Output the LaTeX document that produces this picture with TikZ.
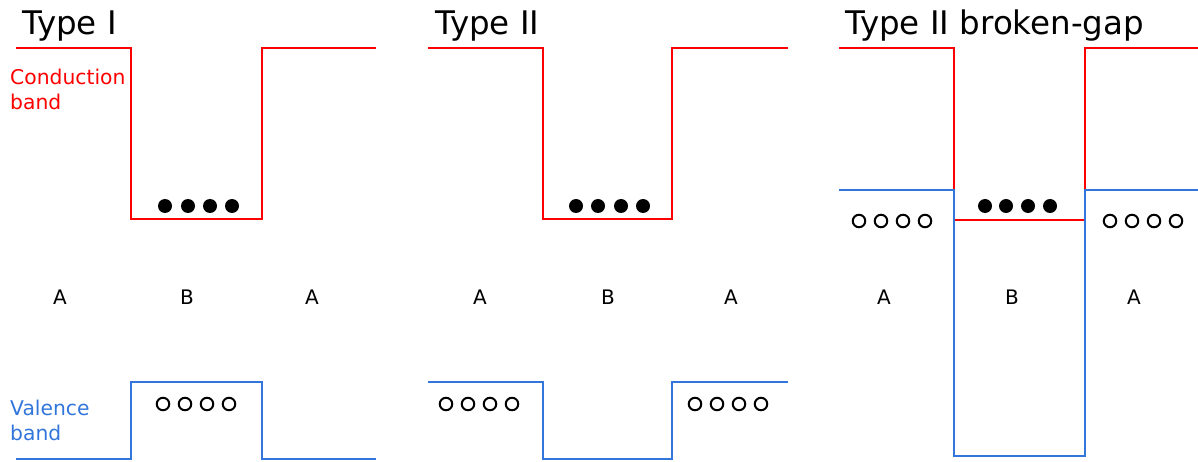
\documentclass[tikz,border=0pt]{standalone}
\usepackage{fontspec}
\setmainfont{DejaVu Sans}
\definecolor{cband}{RGB}{255,0,0}
\definecolor{vband}{RGB}{50,118,220}
\tikzset{
  cline/.style={draw=cband, line width=2pt, line join=miter},
  vline/.style={draw=vband, line width=2pt, line join=miter},
  electron/.style={circle, fill=black, inner sep=0pt, minimum size=14pt},
  hole/.style={circle, draw=black, line width=2pt, inner sep=0pt, minimum size=12.5pt},
  title/.style={anchor=base west, inner sep=0pt, font=\fontsize{32.5}{38}\selectfont},
  side/.style={anchor=base west, inner sep=0pt, font=\fontsize{20.3}{25}\selectfont},
  region/.style={anchor=base, inner sep=0pt, font=\fontsize{20}{24}\selectfont},
}
\begin{document}
\begin{tikzpicture}[x=1pt, y=-1pt]
\useasboundingbox (0,0) rectangle (1198,462);

% ---------- Type I ----------
\node[title] (t1) at (22,35) {Type I};
\draw[cline] (16,48) -- (131,48) -- (131,219) -- (262,219) -- (262,48) -- (376,48);
\draw[vline] (16,459) -- (131,459) -- (131,382) -- (262,382) -- (262,459) -- (376,459);
\node[side, text=cband] (cb1) at (10,85) {Conduction};
\node[side, text=cband] (cb2) at (10,110) {band};
\node[side, text=vband] (vb1) at (10,415) {Valence};
\node[side, text=vband] (vb2) at (10,440) {band};
\foreach \x [count=\i] in {165,188,210,232} \node[electron] (e1\i) at (\x,206) {};
\foreach \x [count=\i] in {163,185,207,229} \node[hole] (h1\i) at (\x,404) {};
\node[region] (a1l) at (60,304) {A};
\node[region] (b1) at (187,304) {B};
\node[region] (a1r) at (312,304) {A};

% ---------- Type II ----------
\node[title] (t2) at (435,35) {Type II};
\draw[cline] (428,48) -- (543,48) -- (543,219) -- (672,219) -- (672,48) -- (788,48);
\draw[vline] (428,382) -- (543,382) -- (543,459) -- (672,459) -- (672,382) -- (788,382);
\foreach \x [count=\i] in {576,598,621,643} \node[electron] (e2\i) at (\x,206) {};
\foreach \x [count=\i] in {446,468,490,512} \node[hole] (h2\i) at (\x,404) {};
\foreach \x [count=\i] in {695,717,739,761} \node[hole] (k2\i) at (\x,404) {};
\node[region] (a2l) at (480,304) {A};
\node[region] (b2) at (608,304) {B};
\node[region] (a2r) at (731,304) {A};

% ---------- Type II broken-gap ----------
\node[title] (t3) at (845,35) {Type II broken-gap};
\draw[cline] (839,48) -- (954,48) -- (954,220) -- (1085,220) -- (1085,48) -- (1198,48);
\draw[vline] (839,190) -- (954,190) -- (954,456) -- (1085,456) -- (1085,190) -- (1198,190);
\foreach \x [count=\i] in {985,1006,1028,1050} \node[electron] (e3\i) at (\x,206) {};
\foreach \x [count=\i] in {859,881,903,925} \node[hole] (h3\i) at (\x,221) {};
\foreach \x [count=\i] in {1110,1132,1154,1176} \node[hole] (k3\i) at (\x,221) {};
\node[region] (a3l) at (884,304) {A};
\node[region] (b3) at (1012,304) {B};
\node[region] (a3r) at (1134,304) {A};
\end{tikzpicture}
\end{document}
